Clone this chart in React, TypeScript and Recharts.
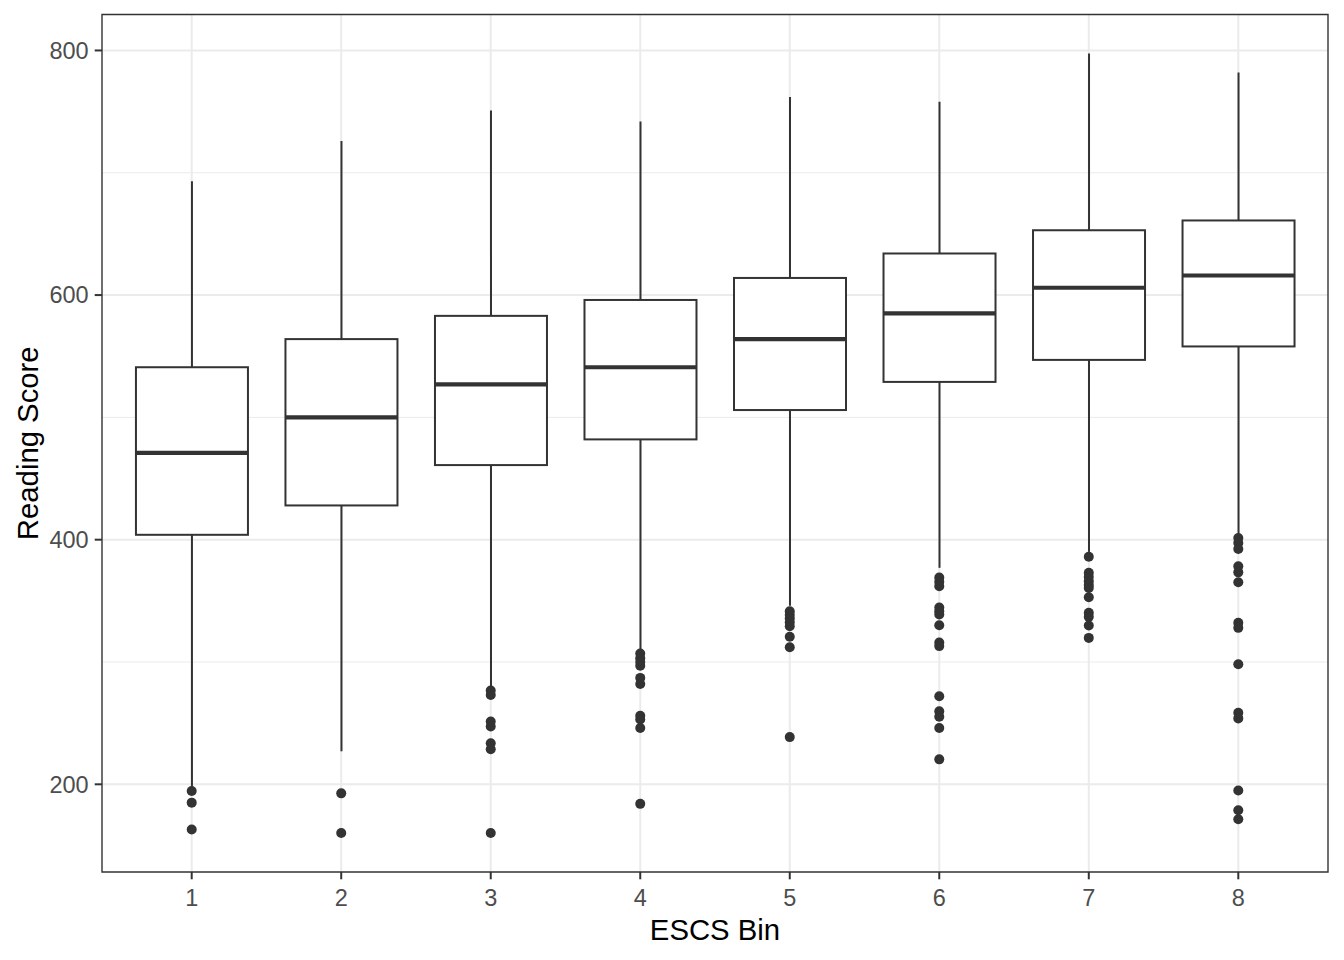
import {
  Bar,
  CartesianGrid,
  ComposedChart,
  ReferenceArea,
  Scatter,
  XAxis,
  YAxis,
} from "recharts";

// ESCS bins on the x axis
const bins = [1, 2, 3, 4, 5, 6, 7, 8];

// box statistics per bin (reading score)
const whiskerLow = [198, 227, 280, 309, 346, 377, 390, 405];
const q1 = [404, 428, 461, 482, 506, 529, 547, 558];
const median = [471, 500, 527, 541, 564, 585, 606, 616];
const q3 = [541, 564, 583, 596, 614, 634, 653, 661];
const whiskerHigh = [693, 726, 751, 742, 762, 758, 797.5, 782];

// outliers per bin
const outliers = [
  [194.5, 185, 163],
  [192.6, 160.2],
  [276.7, 273, 251.4, 247.3, 233.5, 228.6, 160.2],
  [307, 303, 300, 297, 287, 282, 256, 253, 246, 184],
  [341.5, 338.5, 335.5, 332.5, 329.3, 320.6, 312, 238.6],
  [369, 365.5, 362, 344.5, 341.5, 338.8, 330, 316, 313, 272, 259.8, 255.3, 246, 220.4],
  [386, 373, 369.5, 366, 363, 360.6, 353, 340.2, 336.9, 329.8, 319.7],
  [401.4, 397.3, 392.4, 378.2, 373.3, 365.2, 332, 327.9, 298.2, 258.5, 253.9, 195, 178.8, 171.4],
];

const yTicks = [200, 400, 600, 800];
const yMinor = [300, 500, 700];

const boxes = bins.map((b, i) => ({
  x: b,
  wLow: whiskerLow[i],
  q1: q1[i],
  med: median[i],
  q3: q3[i],
  wHigh: whiskerHigh[i],
}));

const points = bins.flatMap((b, i) => outliers[i].map((v) => ({ x: b, y: v })));

const INK = "#333333";
const FONT = "'Liberation Sans', Arial, sans-serif";

function BoxShape(props: any) {
  const { x, y, width, height, payload } = props;
  const lo = payload.wLow;
  const hi = payload.wHigh;
  const k = height / (hi - lo);
  const toY = (v: number) => y + (hi - v) * k;
  const cx = x + width / 2;
  return (
    <g>
      <line x1={cx} x2={cx} y1={toY(hi)} y2={toY(payload.q3)} stroke={INK} strokeWidth={2} />
      <line x1={cx} x2={cx} y1={toY(payload.q1)} y2={toY(lo)} stroke={INK} strokeWidth={2} />
      <rect
        x={x}
        y={toY(payload.q3)}
        width={width}
        height={toY(payload.q1) - toY(payload.q3)}
        fill="#ffffff"
        stroke={INK}
        strokeWidth={2}
      />
      <line x1={x} x2={x + width} y1={toY(payload.med)} y2={toY(payload.med)} stroke={INK} strokeWidth={4.2} />
    </g>
  );
}

function Dot(props: any) {
  return <circle cx={props.cx} cy={props.cy} r={5} fill={INK} />;
}

export default function App() {
  return (
    <div style={{ position: "absolute", left: 0, top: 0, width: 1344, height: 960, background: "#fff" }}>
      <ComposedChart
        width={1344}
        height={960}
        data={boxes}
        margin={{ top: 14.5, right: 16, left: 0, bottom: 0 }}
        style={{ fontFamily: FONT }}
      >
        <CartesianGrid
          horizontalValues={yMinor}
          vertical={false}
          stroke="#EBEBEB"
          strokeWidth={1}
        />
        <CartesianGrid
          horizontalValues={yTicks}
          verticalValues={bins}
          stroke="#EBEBEB"
          strokeWidth={2}
        />
        <XAxis
          type="number"
          dataKey="x"
          domain={[0.4, 8.6]}
          ticks={bins}
          allowDataOverflow
          height={88}
          axisLine={false}
          tickLine={{ stroke: INK, strokeWidth: 2 }}
          tickSize={7.3}
          tickMargin={10}
          tick={{ fill: "#4D4D4D", fontSize: 23.5, fontFamily: FONT }}
          label={{ value: "ESCS Bin", position: "insideBottom", offset: 20, fill: "#000", fontSize: 29.3, fontFamily: FONT }}
        />
        <YAxis
          type="number"
          domain={[128.3, 829.4]}
          ticks={yTicks}
          allowDataOverflow
          width={102}
          axisLine={false}
          tickLine={{ stroke: INK, strokeWidth: 2 }}
          tickSize={7.3}
          tickMargin={6}
          tick={{ fill: "#4D4D4D", fontSize: 23.5, fontFamily: FONT }}
          label={{
            value: "Reading Score",
            angle: -90,
            position: "insideLeft",
            offset: 28,
            fill: "#000",
            fontSize: 29.3,
            fontFamily: FONT,
            style: { textAnchor: "middle" },
          }}
        />
        <Bar
          dataKey={(d: any) => [d.wLow, d.wHigh]}
          barSize={112}
          shape={BoxShape}
          isAnimationActive={false}
        />
        <Scatter data={points} dataKey="y" shape={Dot} isAnimationActive={false} />
        <ReferenceArea
          x1={0.4}
          x2={8.6}
          y1={128.3}
          y2={829.4}
          fill="none"
          stroke={INK}
          strokeWidth={1.4}
          ifOverflow="visible"
        />
      </ComposedChart>
    </div>
  );
}
